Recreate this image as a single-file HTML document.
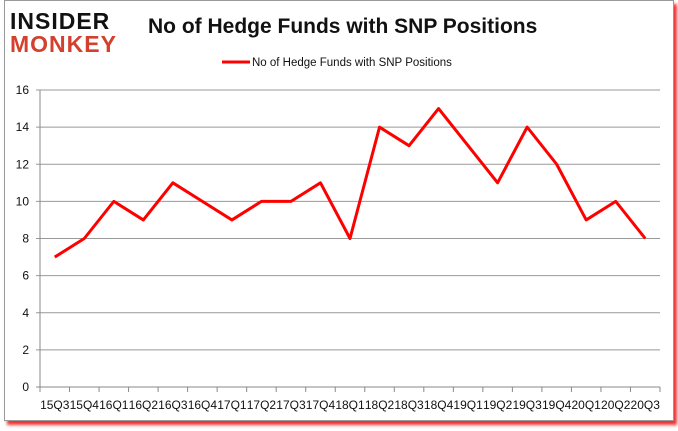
<!DOCTYPE html>
<html><head><meta charset="utf-8"><style>
body{margin:0;background:#fff;font-family:"Liberation Sans",sans-serif}
#frame{position:absolute;left:4px;top:0;width:668px;height:419px;border:1px solid #999;background:#fff;box-shadow:3px 4px 3px #e33}
</style></head><body>
<div id="frame"></div>
<svg width="678" height="431" style="position:absolute;left:0;top:0" id="chart">
<text x="10" y="29" font-size="23" font-weight="bold" fill="#111" font-family="Liberation Sans" letter-spacing="1">INSIDER</text>
<text x="10" y="52" font-size="23" font-weight="bold" fill="#d4402e" font-family="Liberation Sans" letter-spacing="1">MONKEY</text>
<text x="148" y="33" font-size="21" font-weight="bold" fill="#111">No of Hedge Funds with SNP Positions</text>
<line x1="222" y1="62" x2="250" y2="62" stroke="#f00" stroke-width="3"/>
<text x="252" y="66" font-size="11.5" fill="#111">No of Hedge Funds with SNP Positions</text>
<g id="grid"></g><g id="axes"></g><g id="series"></g>
</svg>
<script>
const categories=["15Q3","15Q4","16Q1","16Q2","16Q3","16Q4","17Q1","17Q2","17Q3","17Q4","18Q1","18Q2","18Q3","18Q4","19Q1","19Q2","19Q3","19Q4","20Q1","20Q2","20Q3"];
const values=[7,8,10,9,11,10,9,10,10,11,8,14,13,15,13,11,14,12,9,10,8];
const yTicks=[0,2,4,6,8,10,12,14,16];
const ns="http://www.w3.org/2000/svg";
const X0=40,X1=660,Y0=387,Y1=90;
const bw=(X1-X0)/categories.length;
const xs=i=>X0+bw*(i+0.5);
const ys=v=>Y0-(v/16)*(Y0-Y1);
function mk(t,a,p){const e=document.createElementNS(ns,t);for(const k in a)e.setAttribute(k,a[k]);p.appendChild(e);return e;}
const grid=document.getElementById('grid'),axes=document.getElementById('axes'),series=document.getElementById('series');
yTicks.forEach(v=>{
 const l=mk('line',{x1:X0-4,x2:X1,y1:ys(v),y2:ys(v),stroke:v===0?'#888':'#999','stroke-width':1},grid);
 
 
 const t=mk('text',{x:X0-11,y:ys(v)+4,'font-size':12,'text-anchor':'end',fill:'#111'},axes);
 t.textContent=v;
 
 
});
const ya=mk('line',{x1:X0,x2:X0,y1:Y1,y2:Y0,stroke:'#888'},axes);


for(let i=0;i<=categories.length;i++){
 const tk=mk('line',{x1:X0+bw*i,x2:X0+bw*i,y1:Y0,y2:Y0+5,stroke:'#888'},axes);
 
 
}
categories.forEach((c,i)=>{
 const t=mk('text',{x:xs(i),y:Y0+22,'font-size':12,'text-anchor':'middle',fill:'#111'},axes);
 t.textContent=c;
 
 
});
const pl=mk('polyline',{points:values.map((v,i)=>xs(i)+','+ys(v)).join(' '),fill:'none',stroke:'#f00','stroke-width':3,'stroke-linejoin':'round'},series);


</script>
</body></html>
